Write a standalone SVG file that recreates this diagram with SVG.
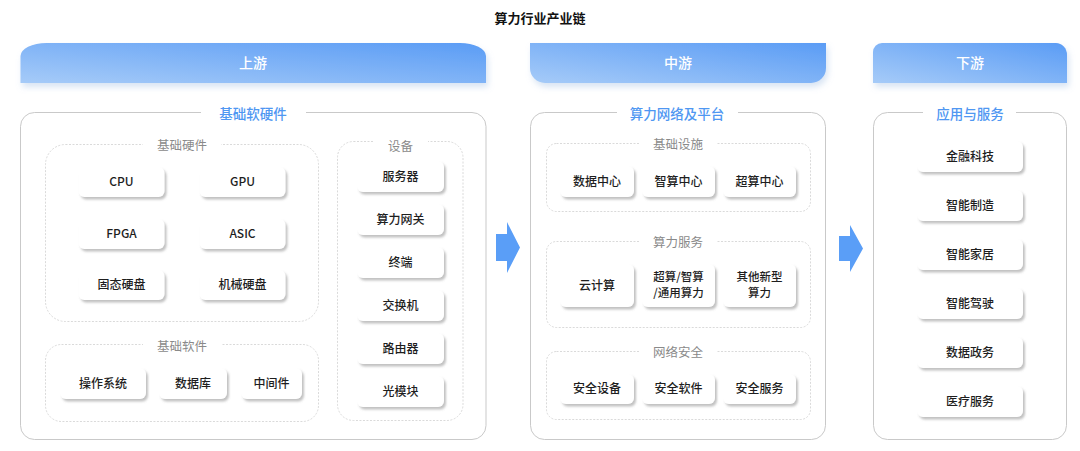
<svg xmlns="http://www.w3.org/2000/svg" width="1080" height="451" viewBox="0 0 1080 451">
<defs>
<linearGradient id="hg" x1="0" y1="1" x2="1" y2="0">
<stop offset="0" stop-color="#a6cbf8"/>
<stop offset="1" stop-color="#5a9cf5"/>
</linearGradient>
<filter id="hs" x="-10%" y="-30%" width="120%" height="180%">
<feDropShadow dx="2" dy="4" stdDeviation="3" flood-color="#8fb0de" flood-opacity="0.35"/>
</filter>
<filter id="ns" x="-20%" y="-30%" width="150%" height="170%">
<feDropShadow dx="2" dy="2.5" stdDeviation="1.3" flood-color="#777" flood-opacity="0.45"/>
</filter>
<style>
.hdr{fill:url(#hg);filter:url(#hs)}
.ht{font-family:"Noto Sans CJK SC","Noto Sans",sans-serif;font-size:14px;fill:#fff;text-anchor:middle;font-weight:500}
.box{fill:#fff;stroke:#c9c9c9;stroke-width:1}
.bt{font-family:"Noto Sans CJK SC","Noto Sans",sans-serif;font-size:13.5px;fill:#4f97f2;text-anchor:middle;font-weight:500}
.dash{fill:none;stroke:#d0d0d0;stroke-width:0.8;stroke-dasharray:2 1.5}
.dt{font-family:"Noto Sans CJK SC","Noto Sans",sans-serif;font-size:12.5px;fill:#8a8a8a;text-anchor:middle}
.gap{fill:#fff}
.n{fill:#fff;filter:url(#ns)}
.nt{font-family:"Noto Sans CJK SC","Noto Sans",sans-serif;font-size:12px;fill:#1e1e1e;text-anchor:middle;font-weight:500}
.nt2{font-size:11.5px}
.arr{fill:#5a9ef7}
</style>
</defs>
<rect width="1080" height="451" fill="#fff"/>
<text x="540" y="23" font-family="'Noto Sans CJK SC','Noto Sans',sans-serif" font-size="13px" font-weight="bold" fill="#111" text-anchor="middle">算力行业产业链</text>

<g id="hdr-up">
<path class="hdr" d="M20.5,83 V56 A26,13 0 0 1 46.5,43 H460 A26,13 0 0 1 486,56 V83 Z"/>
<text class="ht" x="253" y="68">上游</text>
</g>
<g id="hdr-mid">
<path class="hdr" d="M530,43 H826 V68 A15,15 0 0 1 811,83 H545 A15,15 0 0 1 530,68 Z"/>
<text class="ht" x="678" y="68">中游</text>
</g>
<g id="hdr-down">
<path class="hdr" d="M873,83 V52 A9,9 0 0 1 882,43 H1056 A11,12 0 0 1 1067,55 V83 Z"/>
<text class="ht" x="970" y="68">下游</text>
</g>

<g id="up">
<rect class="box" x="20.5" y="112.5" width="465.5" height="327" rx="14"/>
<rect class="gap" x="201" y="106" width="105" height="14"/>
<text class="bt" x="253" y="119">基础软硬件</text>
<g id="hw">
<rect class="dash" x="45.5" y="144.5" width="273" height="177" rx="20"/>
<rect class="gap" x="143" y="139" width="78" height="12"/>
<text class="dt" x="182" y="150">基础硬件</text>
<g id="n-cpu"><rect class="n" x="78.5" y="167" width="86" height="30" rx="6"/><text class="nt" x="121.5" y="186">CPU</text></g>
<g id="n-gpu"><rect class="n" x="199.5" y="167" width="86" height="30" rx="6"/><text class="nt" x="242.5" y="186">GPU</text></g>
<g id="n-fpga"><rect class="n" x="78.5" y="219" width="86" height="30" rx="6"/><text class="nt" x="121.5" y="238">FPGA</text></g>
<g id="n-asic"><rect class="n" x="199.5" y="219" width="86" height="30" rx="6"/><text class="nt" x="242.5" y="238">ASIC</text></g>
<g id="n-ssd"><rect class="n" x="78.5" y="270" width="86" height="30" rx="6"/><text class="nt" x="121.5" y="289">固态硬盘</text></g>
<g id="n-hdd"><rect class="n" x="199.5" y="270" width="86" height="30" rx="6"/><text class="nt" x="242.5" y="289">机械硬盘</text></g>
</g>
<g id="sw">
<rect class="dash" x="45.5" y="344.5" width="273" height="77" rx="16"/>
<rect class="gap" x="143" y="339" width="78" height="12"/>
<text class="dt" x="182" y="351">基础软件</text>
<g id="n-os"><rect class="n" x="60" y="368" width="86" height="31" rx="6"/><text class="nt" x="103" y="388">操作系统</text></g>
<g id="n-db"><rect class="n" x="159" y="368" width="68" height="31" rx="6"/><text class="nt" x="193" y="388">数据库</text></g>
<g id="n-mw"><rect class="n" x="241" y="368" width="61" height="31" rx="6"/><text class="nt" x="271.5" y="388">中间件</text></g>
</g>
<g id="dev">
<rect class="dash" x="337.5" y="141.5" width="125.5" height="279" rx="16"/>
<rect class="gap" x="373" y="136" width="55" height="12"/>
<text class="dt" x="400.5" y="151">设备</text>
<g id="n-server"><rect class="n" x="357" y="161" width="87" height="31" rx="6"/><text class="nt" x="400.5" y="181">服务器</text></g>
<g id="n-gw"><rect class="n" x="357" y="204" width="87" height="31" rx="6"/><text class="nt" x="400.5" y="224">算力网关</text></g>
<g id="n-term"><rect class="n" x="357" y="247" width="87" height="31" rx="6"/><text class="nt" x="400.5" y="267">终端</text></g>
<g id="n-switch"><rect class="n" x="357" y="290" width="87" height="31" rx="6"/><text class="nt" x="400.5" y="310">交换机</text></g>
<g id="n-router"><rect class="n" x="357" y="333" width="87" height="31" rx="6"/><text class="nt" x="400.5" y="353">路由器</text></g>
<g id="n-optic"><rect class="n" x="357" y="376" width="87" height="31" rx="6"/><text class="nt" x="400.5" y="396">光模块</text></g>
</g>
</g>

<g id="mid">
<rect class="box" x="530.5" y="112.5" width="295" height="327" rx="14"/>
<rect class="gap" x="617" y="106" width="121" height="14"/>
<text class="bt" x="677" y="119">算力网络及平台</text>
<g id="infra">
<rect class="dash" x="546.5" y="143.5" width="264" height="68" rx="10"/>
<rect class="gap" x="640" y="138" width="76" height="12"/>
<text class="dt" x="678" y="149">基础设施</text>
<g id="n-dc"><rect class="n" x="560" y="166" width="74" height="31" rx="6"/><text class="nt" x="597" y="186">数据中心</text></g>
<g id="n-ic"><rect class="n" x="642" y="166" width="73" height="31" rx="6"/><text class="nt" x="678.5" y="186">智算中心</text></g>
<g id="n-sc"><rect class="n" x="723" y="166" width="73" height="31" rx="6"/><text class="nt" x="759.5" y="186">超算中心</text></g>
</g>
<g id="svc">
<rect class="dash" x="546.5" y="241.5" width="264" height="86" rx="10"/>
<rect class="gap" x="640" y="236" width="76" height="12"/>
<text class="dt" x="678" y="247">算力服务</text>
<g id="n-cloud"><rect class="n" x="560" y="264" width="74" height="43" rx="6"/><text class="nt" x="597" y="290">云计算</text></g>
<g id="n-gen"><rect class="n" x="642" y="264" width="73" height="43" rx="6"/><text class="nt nt2" x="678.5" y="281">超算/智算</text><text class="nt nt2" x="678.5" y="297">/通用算力</text></g>
<g id="n-new"><rect class="n" x="723" y="264" width="73" height="43" rx="6"/><text class="nt nt2" x="759.5" y="281">其他新型</text><text class="nt nt2" x="759.5" y="297">算力</text></g>
</g>
<g id="sec">
<rect class="dash" x="546.5" y="351.5" width="264" height="68" rx="10"/>
<rect class="gap" x="640" y="346" width="76" height="12"/>
<text class="dt" x="678" y="357">网络安全</text>
<g id="n-secdev"><rect class="n" x="560" y="374" width="74" height="30" rx="6"/><text class="nt" x="597" y="393">安全设备</text></g>
<g id="n-secsw"><rect class="n" x="642" y="374" width="73" height="30" rx="6"/><text class="nt" x="678.5" y="393">安全软件</text></g>
<g id="n-secsvc"><rect class="n" x="723" y="374" width="73" height="30" rx="6"/><text class="nt" x="759.5" y="393">安全服务</text></g>
</g>
</g>

<g id="down">
<rect class="box" x="873.5" y="112.5" width="193" height="327" rx="14"/>
<rect class="gap" x="923" y="106" width="93" height="14"/>
<text class="bt" x="970" y="119">应用与服务</text>
<g id="n-fin"><rect class="n" x="917" y="141" width="106" height="31" rx="6"/><text class="nt" x="970" y="161">金融科技</text></g>
<g id="n-mfg"><rect class="n" x="917" y="190" width="106" height="31" rx="6"/><text class="nt" x="970" y="210">智能制造</text></g>
<g id="n-home"><rect class="n" x="917" y="239" width="106" height="31" rx="6"/><text class="nt" x="970" y="259">智能家居</text></g>
<g id="n-drive"><rect class="n" x="917" y="288" width="106" height="31" rx="6"/><text class="nt" x="970" y="308">智能驾驶</text></g>
<g id="n-gov"><rect class="n" x="917" y="337" width="106" height="31" rx="6"/><text class="nt" x="970" y="357">数据政务</text></g>
<g id="n-med"><rect class="n" x="917" y="386" width="106" height="31" rx="6"/><text class="nt" x="970" y="406">医疗服务</text></g>
</g>

<g id="connectors">
<path class="arr" d="M496,234 H507 V222 L520,247.5 L507,273 V261 H496 Z"/>
<path class="arr" d="M839,236 H850 V225 L863,248.5 L850,272 V261 H839 Z"/>
</g>
</svg>
